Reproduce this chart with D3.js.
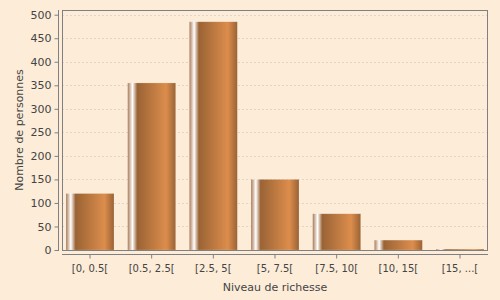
<!DOCTYPE html>
<html><head><meta charset="utf-8">
<script src="https://cdn.jsdelivr.net/npm/d3@7"></script>
<style>
html,body{margin:0;padding:0;background:#fcecd8;}
svg{display:block;}
text{font-family:"DejaVu Sans",sans-serif;fill:#444;}
</style></head>
<body>
<svg id="chart" width="500" height="300"></svg>
<script>
const categories = ["[0, 0.5[", "[0.5, 2.5[", "[2.5, 5[", "[5, 7.5[", "[7.5, 10[", "[10, 15[", "[15, ...["];
const values = [120, 355, 485, 150, 77, 21, 2];
const yTicks = [0, 50, 100, 150, 200, 250, 300, 350, 400, 450, 500];
const xTitle = "Niveau de richesse";
const yTitle = "Nombre de personnes";

const W = 500, H = 300;
const plot = {left: 62, top: 10, right: 488, bottom: 250};
const svg = d3.select("#chart");
svg.append("rect").attr("width", W).attr("height", H).attr("fill", "#fcecd8");

const x = d3.scaleBand().domain(categories)
  .range([plot.left + 4, plot.right - 4]).paddingInner(0.222).paddingOuter(0);
const y = d3.scaleLinear().domain([0, 510]).range([plot.bottom, plot.top]);

// gradient
const defs = svg.append("defs");
const base = "#9a6335", light = "#dc8d4c";
const g = defs.append("linearGradient").attr("id", "barGrad")
  .attr("x1", "0%").attr("x2", "100%").attr("y1", "0%").attr("y2", "0%");
[[0, "#a97a55"],[0.1, "#ffffff"],[0.2, base],[0.8, light],[1, base]].forEach(([o,c]) =>
  g.append("stop").attr("offset", o).attr("stop-color", c));

// gridlines
svg.append("g").selectAll("line").data(yTicks.filter(t => t > 0)).join("line")
  .attr("x1", plot.left).attr("x2", plot.right)
  .attr("y1", d => Math.round(y(d)) + 0.5).attr("y2", d => Math.round(y(d)) + 0.5)
  .attr("stroke", "#d9cfc4").attr("stroke-width", 0.8).attr("stroke-dasharray", "2,2");

// bars
svg.append("g").selectAll("rect").data(values).join("rect")
  .attr("x", (d,i) => x(categories[i]))
  .attr("y", d => y(d))
  .attr("width", x.bandwidth())
  .attr("height", d => plot.bottom - y(d))
  .attr("fill", "url(#barGrad)")
  .attr("stroke", "rgba(255,255,255,0.25)").attr("stroke-width", 0.6);

// plot border
svg.append("rect").attr("x", plot.left + 0.5).attr("y", plot.top + 0.5)
  .attr("width", plot.right - plot.left - 1).attr("height", plot.bottom - plot.top)
  .attr("fill", "none").attr("stroke", "#808080").attr("stroke-width", 1);

// y axis
const yAxis = d3.axisLeft(y).tickValues(yTicks).tickSize(4).tickPadding(3);
const ya = svg.append("g").attr("transform", "translate(58.5,0)").call(yAxis);
ya.select(".domain").attr("d", `M0,${plot.top}V${plot.bottom + 1}`).attr("stroke", "#808080");
ya.selectAll(".tick line").attr("stroke", "#808080");
ya.selectAll(".tick text").attr("font-size", 11).attr("font-family", "DejaVu Sans").attr("fill", "#444");

// x axis
const xAxis = d3.axisBottom(x).tickSize(4).tickPadding(6);
const xa = svg.append("g").attr("transform", "translate(0,254.5)").call(xAxis);
xa.select(".domain").attr("d", `M${plot.left},0H${plot.right}`).attr("stroke", "#808080");
xa.selectAll(".tick line").attr("stroke", "#808080");
xa.selectAll(".tick text").attr("font-size", 10).attr("font-family", "DejaVu Sans").attr("fill", "#444");

// titles
svg.append("text").attr("x", (plot.left + plot.right) / 2).attr("y", 291)
  .attr("text-anchor", "middle").attr("font-size", 11).text(xTitle);
svg.append("text").attr("transform", `translate(23,${(plot.top + plot.bottom) / 2}) rotate(-90)`)
  .attr("text-anchor", "middle").attr("font-size", 11).text(yTitle);
</script>
</body></html>
